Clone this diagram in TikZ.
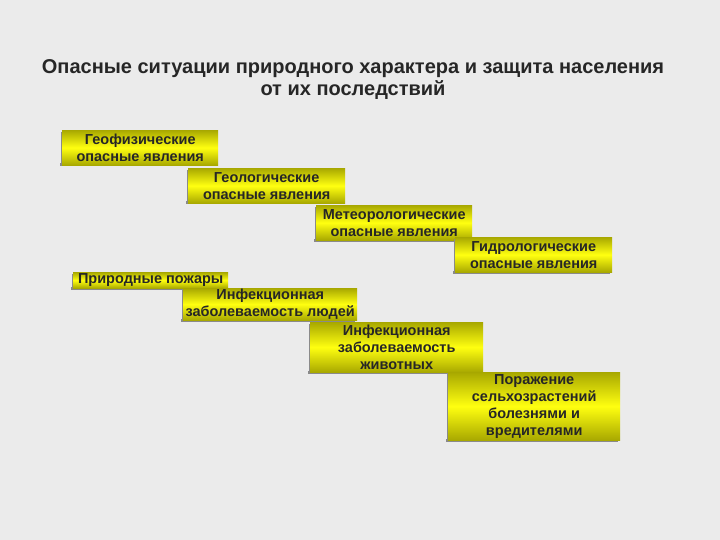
\documentclass[tikz,border=0pt]{standalone}
\usepackage{fontspec}
\setmainfont{Liberation Sans}
\usetikzlibrary{positioning}
\definecolor{bg}{HTML}{EBEBEB}
\definecolor{oliv}{HTML}{A8A800}
\definecolor{yel}{HTML}{FFFF10}
\definecolor{shd}{HTML}{8A8A8A}
\tikzset{
  hz/.style={rectangle, inner sep=0pt, top color=oliv, bottom color=oliv, middle color=yel,
    font=\bfseries\fontsize{14.5}{17}\selectfont, align=center, anchor=north west,
    text=black!85},
}
\newcommand{\hzbox}[6]{% name, x1, y1, x2, y2, text
  \fill[shd] (#2-2,-#5+1.5) rectangle (#4-2,-#5-1.5);
  \fill[shd] (#2-1.5,-#3-2) rectangle (#2+0.5,-#5-1.5);
  \node[hz, minimum width=#4pt-#2pt, minimum height=#5pt-#3pt] (#1) at (#2,-#3) {#6};
}
\begin{document}
\begin{tikzpicture}[x=1pt,y=1pt]
\fill[bg] (0,0) rectangle (720,-540);
\useasboundingbox (0,0) rectangle (720,-540);
\node[font=\bfseries\fontsize{20}{22}\selectfont, align=center, text=black!85] (title) at (353,-80)
 {Опасные ситуации природного характера и защита населения\\от их последствий};
\hzbox{b1}{62}{130}{218}{165}{Геофизические\\опасные явления}
\hzbox{b2}{188}{168}{345}{203}{Геологические\\опасные явления}
\hzbox{b3}{316}{205}{472}{240}{Метеорологические\\опасные явления}
\hzbox{b4}{455}{237}{612}{272}{Гидрологические\\опасные явления}
\hzbox{b5}{73}{272}{228}{288}{Природные пожары}
\hzbox{b6}{183}{288}{357}{320}{Инфекционная\\заболеваемость людей}
\hzbox{b7}{310}{322}{483}{372}{Инфекционная\\заболеваемость\\животных}
\hzbox{b8}{448}{372}{620}{440}{Поражение\\сельхозрастений\\болезнями и\\вредителями}
\end{tikzpicture}
\end{document}
